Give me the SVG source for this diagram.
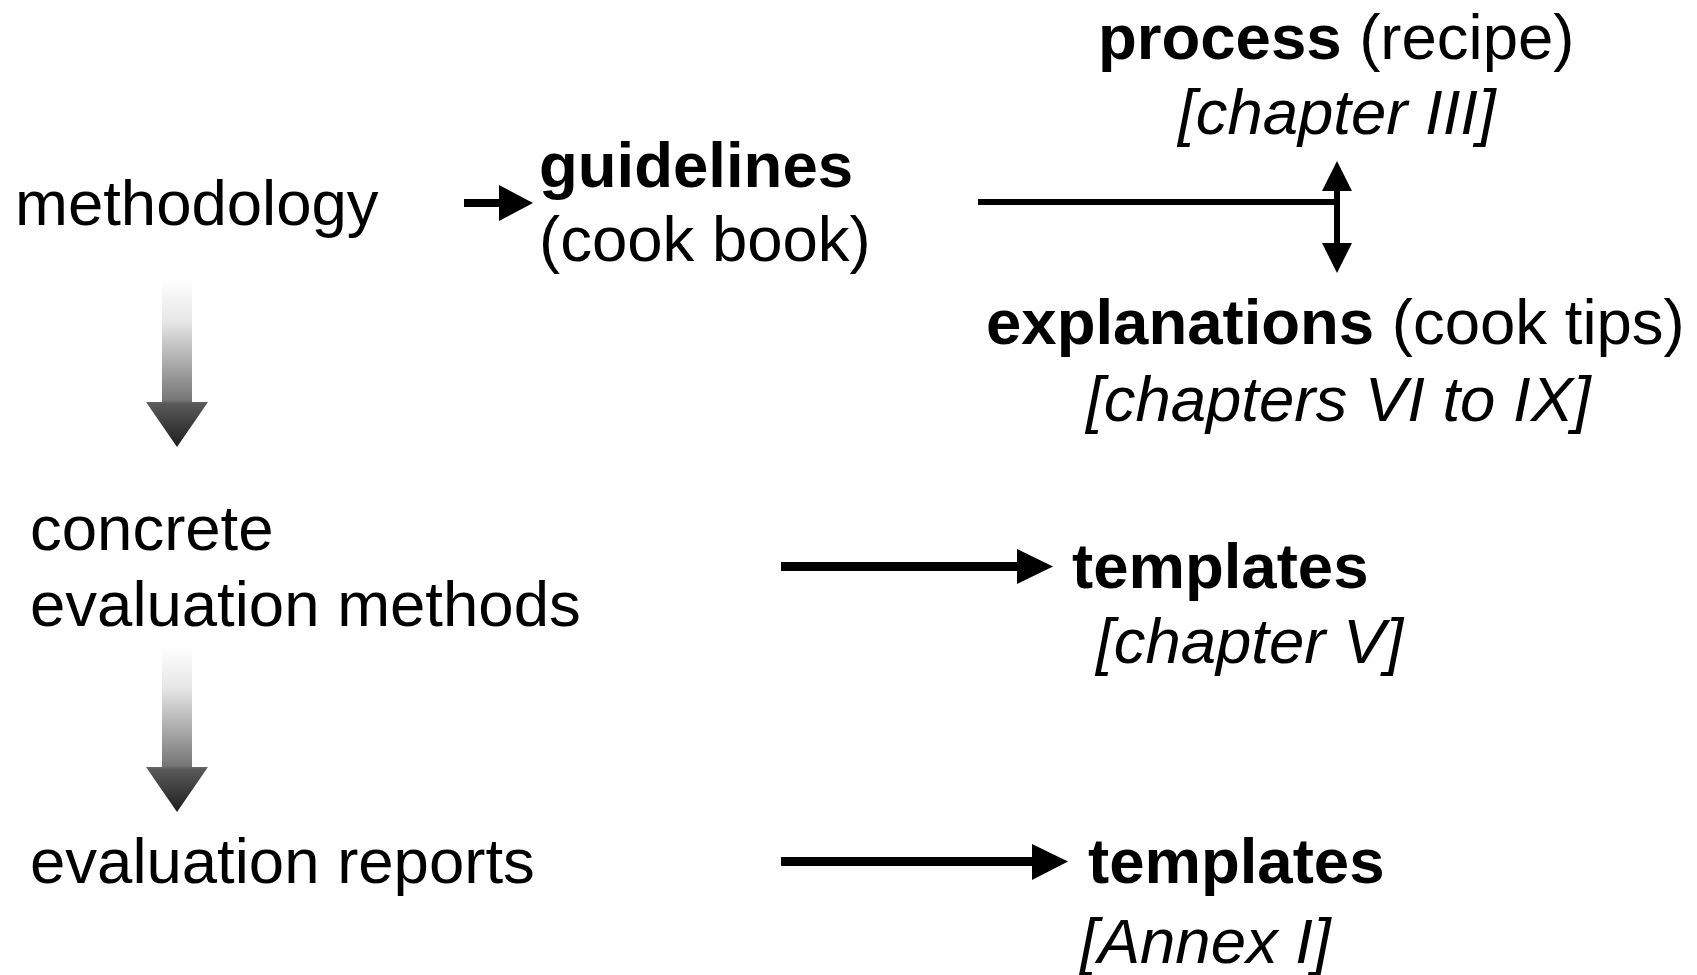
<svg xmlns="http://www.w3.org/2000/svg" width="1697" height="975" viewBox="0 0 1697 975">
<defs>
<linearGradient id="fade" x1="0" y1="0" x2="0" y2="1">
<stop offset="0" stop-color="#ffffff"/>
<stop offset="0.25" stop-color="#e6e6e6"/>
<stop offset="0.72" stop-color="#767676"/>
<stop offset="0.74" stop-color="#5a5a5a"/>
<stop offset="1" stop-color="#1e1e1e"/>
</linearGradient>
<style>
text{font-family:"Liberation Sans",Arial,sans-serif;font-size:63.5px;fill:#000}
.b{font-weight:bold}
.i{font-style:italic}
.ln{stroke:#000;fill:none}
.hd{fill:#000}
</style>
</defs>
<rect width="1697" height="975" fill="#fff"/>
<g id="methodology"><text x="15" y="225">methodology</text></g>
<g id="guidelines"><text x="539" y="187" class="b">guidelines</text><text x="539" y="261">(cook book)</text></g>
<g id="process"><text x="1098" y="59"><tspan class="b">process</tspan> (recipe)</text><text x="1178" y="134" class="i">[chapter III]</text></g>
<g id="explanations"><text x="986" y="344"><tspan class="b">explanations</tspan> (cook tips)</text><text x="1086" y="421" class="i">[chapters VI to IX]</text></g>
<g id="concrete"><text x="30" y="550">concrete</text><text x="30" y="626">evaluation methods</text></g>
<g id="templates1"><text x="1072" y="588" class="b">templates</text><text x="1096" y="663" class="i">[chapter V]</text></g>
<g id="reports"><text x="30" y="883">evaluation reports</text></g>
<g id="templates2"><text x="1088" y="883" class="b">templates</text><text x="1080" y="963" class="i">[Annex I]</text></g>
<g id="connectors">
<path d="M162 280 H192 V402 H208 L177 447 L146 402 H162 Z" fill="url(#fade)"/>
<path d="M162 647 H192 V767 H208 L177 812 L146 767 H162 Z" fill="url(#fade)"/>
<line class="ln" x1="464" y1="203" x2="500" y2="203" stroke-width="8"/>
<polygon class="hd" points="499,185 533,203 499,221"/>
<line class="ln" x1="978" y1="202" x2="1340" y2="202" stroke-width="6"/>
<line class="ln" x1="1337" y1="190" x2="1337" y2="244" stroke-width="6"/>
<polygon class="hd" points="1322,191 1337,161 1352,191"/>
<polygon class="hd" points="1322,243 1337,273 1352,243"/>
<line class="ln" x1="781" y1="566.5" x2="1018" y2="566.5" stroke-width="9"/>
<polygon class="hd" points="1017,549 1053,566.5 1017,584"/>
<line class="ln" x1="781" y1="861.5" x2="1033" y2="861.5" stroke-width="9"/>
<polygon class="hd" points="1032,844 1068,861.5 1032,880"/>
</g>
</svg>
